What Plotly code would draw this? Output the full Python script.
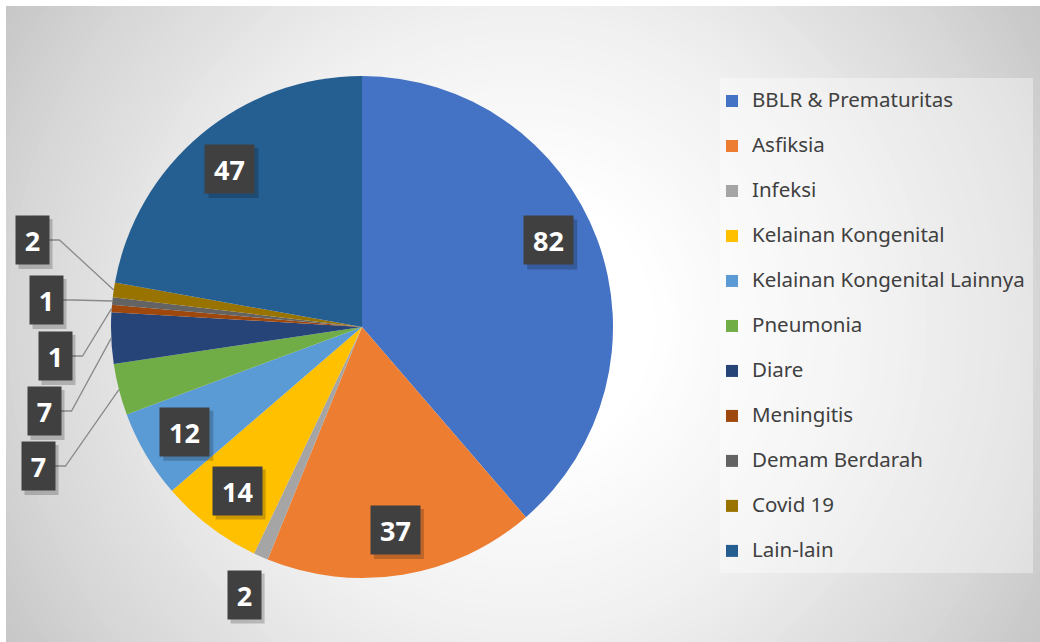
import math
import plotly.graph_objects as go

# ---------------- data ----------------
labels = ["BBLR & Prematuritas", "Asfiksia", "Infeksi", "Kelainan Kongenital",
          "Kelainan Kongenital Lainnya", "Pneumonia", "Diare", "Meningitis",
          "Demam Berdarah", "Covid 19", "Lain-lain"]
values = [82, 37, 2, 14, 12, 7, 7, 1, 1, 2, 47]
colors = ["#4472C4", "#ED7D31", "#A5A5A5", "#FFC000", "#5B9BD5", "#70AD47",
          "#264478", "#9E480E", "#636363", "#997300", "#255E91"]

# ---------------- layout constants (pixels) ----------------
W, H = 1040, 642
PIE_CX, PIE_CY, PIE_R = 362, 327, 251
INSIDE_R = 0.82
# labels placed outside the pie: index -> ("radial", factor) or ("box", cx, cy)
OUTSIDE = {
    2: ("radial", 1.165),
    5: ("box", 38, 466),
    6: ("box", 44, 411),
    7: ("box", 55, 356),
    8: ("box", 46, 300),
    9: ("box", 32, 240),
}
# small angular nudge (degrees) for the label of the first slice, as in the reference
ANGLE_NUDGE = {0: -4.5}
BOX_H = 48
ELBOW = 11


def px(x):
    return x / W


def py(y):
    return 1 - y / H


total = sum(values)

fig = go.Figure()
fig.add_trace(go.Pie(
    labels=[f"<span style='font-size:20.5px'>{l}</span><br> " for l in labels],
    values=values,
    sort=False,
    direction="clockwise",
    rotation=0,
    marker=dict(colors=colors, line=dict(width=0)),
    textinfo="none",
    hoverinfo="skip",
    domain=dict(x=[px(PIE_CX - PIE_R), px(PIE_CX + PIE_R)],
                y=[py(PIE_CY + PIE_R), py(PIE_CY - PIE_R)]),
))

shapes = []

# ---- radial gradient background ----
BG_CX, BG_CY = 523, 324
stops = [(0, 255), (130, 255), (318, 240), (520, 213), (620, 197)]


def grad(r):
    for (r0, c0), (r1, c1) in zip(stops[:-1], stops[1:]):
        if r <= r1:
            t = (r - r0) / (r1 - r0)
            return c0 + t * (c1 - c0)
    return stops[-1][1]


r = 620
while r >= 120:
    c = int(round(grad(r)))
    shapes.append(dict(type="circle", xref="paper", yref="paper", layer="below",
                       x0=px(BG_CX - r), x1=px(BG_CX + r),
                       y0=py(BG_CY + r), y1=py(BG_CY - r),
                       fillcolor=f"rgb({c},{c},{c})", line=dict(width=0)))
    r -= 8

# white outer frame strips (top / left)
shapes.append(dict(type="rect", xref="paper", yref="paper", layer="below",
                   x0=0, x1=1, y0=py(6), y1=1.01, fillcolor="white", line=dict(width=0)))
shapes.append(dict(type="rect", xref="paper", yref="paper", layer="below",
                   x0=-0.01, x1=px(6), y0=0, y1=1, fillcolor="white", line=dict(width=0)))

# legend background box
shapes.append(dict(type="rect", xref="paper", yref="paper", layer="below",
                   x0=px(720), x1=px(1033), y0=py(573), y1=py(78),
                   fillcolor="rgba(255,255,255,0.38)", line=dict(width=0)))

annotations = []
cum = 0
for i, v in enumerate(values):
    mid = (cum + v / 2) / total * 2 * math.pi + math.radians(ANGLE_NUDGE.get(i, 0))
    cum += v
    bw = 17 + 16 * len(str(v))
    spec = OUTSIDE.get(i)
    if spec is None:
        bx = PIE_CX + INSIDE_R * PIE_R * math.sin(mid)
        by = PIE_CY - INSIDE_R * PIE_R * math.cos(mid)
    elif spec[0] == "radial":
        bx = PIE_CX + spec[1] * PIE_R * math.sin(mid)
        by = PIE_CY - spec[1] * PIE_R * math.cos(mid)
    else:
        bx, by = spec[1], spec[2]
        ex = PIE_CX + PIE_R * math.sin(mid)
        ey = PIE_CY - PIE_R * math.cos(mid)
        rx = bx + bw / 2
        path = (f"M{px(rx)},{py(by)} L{px(rx + ELBOW)},{py(by)} "
                f"L{px(ex)},{py(ey)}")
        shapes.append(dict(type="path", xref="paper", yref="paper", layer="above",
                           path=path, line=dict(color="#8a8a8a", width=1.3)))
    # shadow
    shapes.append(dict(type="rect", xref="paper", yref="paper", layer="above",
                       x0=px(bx - bw / 2 + 3), x1=px(bx + bw / 2 + 4),
                       y0=py(by + BOX_H / 2 + 5), y1=py(by - BOX_H / 2 + 3),
                       fillcolor="rgba(0,0,0,0.2)", line=dict(width=0)))
    annotations.append(dict(
        x=px(bx), y=py(by), xref="paper", yref="paper",
        xanchor="center", yanchor="middle", showarrow=False,
        text=f"<b>{v}</b>", width=bw, height=BOX_H, borderpad=0,
        bgcolor="#404040", align="center", valign="middle",
        font=dict(family="Open Sans", size=27, color="white"),
    ))

fig.update_layout(
    width=W, height=H,
    margin=dict(l=0, r=0, t=0, b=0),
    paper_bgcolor="white",
    plot_bgcolor="white",
    shapes=shapes,
    annotations=annotations,
    showlegend=True,
    legend=dict(
        x=px(712), y=py(84), xanchor="left", yanchor="top",
        bgcolor="rgba(0,0,0,0)", borderwidth=0,
        font=dict(family="Noto Sans", size=16.15, color="#404040"),
        valign="top", itemwidth=30,
    ),
)

fig.write_html("out.html", config={"displayModeBar": False},
               post_script="document.body.style.margin='0';document.body.style.overflow='hidden';")
